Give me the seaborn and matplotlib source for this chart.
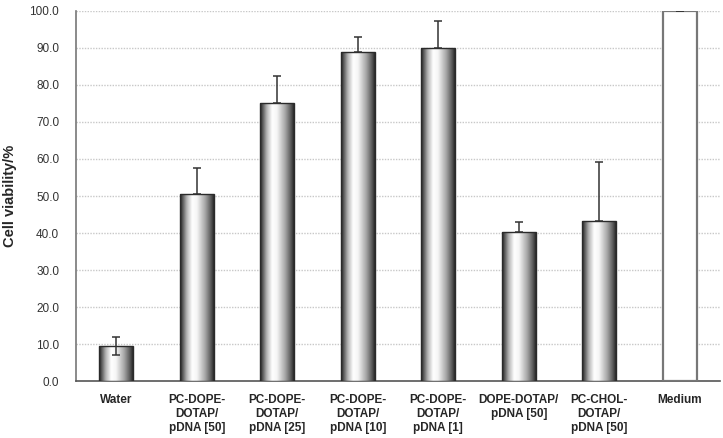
import numpy as np
import pandas as pd
import matplotlib
matplotlib.use("Agg")
import matplotlib.pyplot as plt
import seaborn as sns
from matplotlib.colors import LinearSegmentedColormap
from matplotlib.ticker import FixedLocator, FormatStrFormatter

categories = ["Water", "PC-DOPE-\nDOTAP/\npDNA [50]", "PC-DOPE-\nDOTAP/\npDNA [25]",
              "PC-DOPE-\nDOTAP/\npDNA [10]", "PC-DOPE-\nDOTAP/\npDNA [1]",
              "DOPE-DOTAP/\npDNA [50]", "PC-CHOL-\nDOTAP/\npDNA [50]", "Medium"]
viability = [9.6, 50.5, 75.0, 89.0, 90.0, 40.3, 43.3, 100.0]
err_low = [2.6, 0, 0, 0, 0, 0, 0, 0]
err_high = [2.2, 7.0, 7.5, 4.0, 7.3, 2.8, 15.8, 0]
yticks = [0, 10, 20, 30, 40, 50, 60, 70, 80, 90, 100]

sns.set_style("white")
plt.rcParams['font.family'] = ['Liberation Sans', 'DejaVu Sans']

df = pd.DataFrame({"cat": categories, "v": viability})
fig = plt.figure(figsize=(7.23, 4.38), dpi=100)
ax = fig.add_axes([0.105, 0.130, 0.891, 0.845])

sns.barplot(data=df, x="cat", y="v", ax=ax, width=0.42, color="white",
            edgecolor="#2a2a2a", linewidth=1.0, errorbar=None, zorder=3)

cmap = LinearSegmentedColormap.from_list(
    "cyl", [(0, "#202020"), (0.06, "#4a4a4a"), (0.2, "#b4b4b4"), (0.36, "#ffffff"),
            (0.5, "#f6f6f6"), (0.75, "#a4a4a4"), (0.92, "#565656"), (1.0, "#262626")])
grad = np.linspace(0, 1, 256).reshape(1, -1)
patches = list(ax.patches)
for i, p in enumerate(patches):
    x0, y0 = p.get_x(), p.get_y()
    w, h = p.get_width(), p.get_height()
    if categories[i] == "Medium":
        p.set_edgecolor("#777777")
        p.set_linewidth(1.6)
        continue
    im = ax.imshow(grad, cmap=cmap, extent=[x0, x0 + w, y0, y0 + h],
                   aspect="auto", zorder=3.5, interpolation="bicubic")
    im.set_clip_path(p)
    p.set_facecolor("none")
    p.set_zorder(4)

xs = np.arange(len(categories))
ax.errorbar(xs, viability, yerr=[err_low, err_high], fmt="none",
            ecolor="#333333", elinewidth=1.1, capsize=3, capthick=1.1, zorder=5)

ax.set_xlim(-0.5, len(categories) - 0.5)
ax.set_ylim(0, 100)
ax.yaxis.set_major_locator(FixedLocator(yticks))
ax.yaxis.set_major_formatter(FormatStrFormatter("%.1f"))
for y in yticks[1:]:
    ax.axhline(y, color="#c8c8c8", linestyle=(0, (1, 1)), linewidth=1.0, zorder=1)

ax.set_xticks(xs)
ax.set_xticklabels(categories, fontweight="bold", fontsize=8.5, linespacing=1.25)
ax.set_xticks(np.arange(-0.5, len(categories)), minor=True)
ax.tick_params(axis="x", which="major", length=0, pad=9)
ax.tick_params(axis="x", which="minor", length=5, width=1, color="#555555", direction="out")
ax.tick_params(axis="y", length=5, width=1, color="#555555", direction="out",
               labelsize=8.5, labelcolor="#333333", pad=7)
ax.set_xlabel("")
ax.set_ylabel("Cell viability/%", fontweight="bold", fontsize=10.5, labelpad=9)

for s in ["top", "right"]:
    ax.spines[s].set_visible(False)
ax.spines["left"].set_color("#777777")
ax.spines["bottom"].set_color("#555555")
ax.spines["left"].set_linewidth(1.2)
ax.spines["bottom"].set_linewidth(1.2)

fig.savefig("out.png", dpi=100)
